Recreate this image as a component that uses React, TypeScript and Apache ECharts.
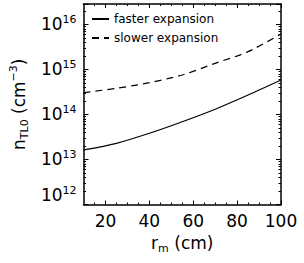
import React, { useEffect, useRef } from "react";
import * as echarts from "echarts";

// ---- data ----
const radius = [10, 25, 40, 55, 70, 85, 100]; // r_m (cm)
const fasterExpansion = [1.63e13, 2.29e13, 3.82e13, 6.9e13, 1.31e14, 2.71e14, 5.84e14];
const slowerExpansion = [3.05e14, 3.82e14, 5.09e14, 7.55e14, 1.37e15, 2.49e15, 6.15e15];
const seriesNames = ["faster expansion", "slower expansion"];

// ---- axis ticks ----
const xMin = 10;
const xMax = 100;
const xMajorTicks = [20, 40, 60, 80, 100];
const xMinorTicks = [15, 20, 25, 30, 35, 40, 45, 50, 55, 60, 65, 70, 75, 80, 85, 90, 95];
const yMin = 1e12;
const yMax = 2.85e16;
const yDecades = [12, 13, 14, 15, 16];
const yMinorMultipliers = [2, 3, 4, 5, 6, 7, 8, 9];

const yMaxLog = Math.log10(yMax);
const yMinorLogTicks: number[] = [];
yDecades.forEach((d) =>
  yMinorMultipliers.forEach((k) => {
    const v = d + Math.log10(k);
    if (v < yMaxLog) yMinorLogTicks.push(v);
  })
);

const FONT = "DejaVu Sans";
const black = "#000";

const axisLine = { show: true, onZero: false, lineStyle: { color: black, width: 1.5 } };
const noLine = { show: false };
const noSplit = { show: false };

const xMajorAxis = (position: "bottom" | "top", withLabels: boolean) => ({
  type: "value",
  position,
  min: xMin,
  max: xMax,
  axisLine,
  axisTick: {
    show: true,
    inside: true,
    length: 4,
    customValues: xMajorTicks,
    lineStyle: { color: black, width: 1 },
  },
  axisLabel: withLabels
    ? {
        show: true,
        customValues: xMajorTicks,
        fontFamily: FONT,
        fontSize: 17,
        color: black,
        margin: 8,
      }
    : { show: false },
  splitLine: noSplit,
});

const xMinorAxis = (position: "bottom" | "top") => ({
  type: "value",
  position,
  min: xMin,
  max: xMax,
  axisLine: noLine,
  axisTick: {
    show: true,
    inside: true,
    length: 2,
    customValues: xMinorTicks,
    lineStyle: { color: black, width: 1 },
  },
  axisLabel: { show: false },
  splitLine: noSplit,
});

const yMajorAxis = (position: "left" | "right", withLabels: boolean) => ({
  type: "log",
  logBase: 10,
  position,
  min: yMin,
  max: yMax,
  axisLine,
  axisTick: { show: true, inside: true, length: 5, lineStyle: { color: black, width: 1 } },
  axisLabel: withLabels
    ? {
        show: true,
        margin: 7,
        formatter: (v: number) => {
          const lg = Math.log10(v);
          const e = Math.round(lg);
          if (Math.abs(lg - e) > 1e-6) return "";
          return e === 12 ? `{b|10}{s|${e}}\n{gap| }` : `{b|10}{s|${e}}`;
        },
        rich: {
          b: { fontFamily: FONT, fontSize: 17, color: black, lineHeight: 20 },
          s: { fontFamily: FONT, fontSize: 11, color: black, lineHeight: 10, verticalAlign: "top" },
          gap: { fontSize: 10, lineHeight: 19 },
        },
      }
    : { show: false },
  splitLine: noSplit,
});

const yMinorAxis = (position: "left" | "right") => ({
  type: "value",
  position,
  min: 12,
  max: yMaxLog,
  axisLine: noLine,
  axisTick: {
    show: true,
    inside: true,
    length: 2.5,
    customValues: yMinorLogTicks,
    lineStyle: { color: black, width: 1 },
  },
  axisLabel: { show: false },
  splitLine: noSplit,
});

const option = {
  animation: false,
  backgroundColor: "#fff",
  grid: { left: 81, right: 23, top: 4, bottom: 58.5, containLabel: false },
  legend: {
    orient: "vertical",
    left: 91,
    top: 13,
    padding: 0,
    itemWidth: 17,
    itemHeight: 14,
    itemGap: 7,
    itemStyle: { color: "rgba(0,0,0,0)", borderWidth: 0, opacity: 0 },
    textStyle: { fontFamily: FONT, fontSize: 12, color: black },
    data: seriesNames,
  },
  xAxis: [
    {
      ...xMajorAxis("bottom", true),
      name: "{a|r}{sub|m}{a| (cm)}",
      nameLocation: "middle",
      nameGap: 26,
      nameTextStyle: {
        rich: {
          a: { fontFamily: FONT, fontSize: 17, color: black, lineHeight: 22 },
          sub: { fontFamily: FONT, fontSize: 11, color: black, lineHeight: 11, verticalAlign: "bottom" },
        },
      },
    },
    xMinorAxis("bottom"),
    xMajorAxis("top", false),
    xMinorAxis("top"),
  ],
  yAxis: [
    {
      ...yMajorAxis("left", true),
      name: "{a|n}{sub|TL0}{a| (cm}{sup|−3}{a|)}",
      nameLocation: "middle",
      nameGap: 47,
      nameTextStyle: {
        rich: {
          a: { fontFamily: FONT, fontSize: 17, color: black, lineHeight: 22 },
          sub: { fontFamily: FONT, fontSize: 11, color: black, lineHeight: 11, verticalAlign: "bottom" },
          sup: { fontFamily: FONT, fontSize: 11, color: black, lineHeight: 11, verticalAlign: "top" },
        },
      },
    },
    yMinorAxis("left"),
    yMajorAxis("right", false),
    yMinorAxis("right"),
  ],
  series: [
    {
      name: seriesNames[0],
      type: "line",
      xAxisIndex: 0,
      yAxisIndex: 0,
      smooth: 0.3,
      symbol: "none",
      lineStyle: { color: black, width: 1.2, type: "solid" },
      itemStyle: { color: black },
      data: radius.map((r, i) => [r, fasterExpansion[i]]),
    },
    {
      name: seriesNames[1],
      type: "line",
      xAxisIndex: 0,
      yAxisIndex: 0,
      smooth: 0.3,
      symbol: "none",
      lineStyle: { color: black, width: 1.2, type: [7, 5] },
      itemStyle: { color: black },
      data: radius.map((r, i) => [r, slowerExpansion[i]]),
    },
  ],
};

export default function App() {
  const ref = useRef<HTMLDivElement>(null);
  useEffect(() => {
    if (!ref.current) return;
    const chart = echarts.init(ref.current, null, { renderer: "svg" });
    chart.setOption(option as any);
    return () => chart.dispose();
  }, []);
  return (
    <div
      ref={ref}
      style={{ position: "fixed", left: 0, top: 0, width: 304, height: 263, background: "#fff" }}
    />
  );
}
